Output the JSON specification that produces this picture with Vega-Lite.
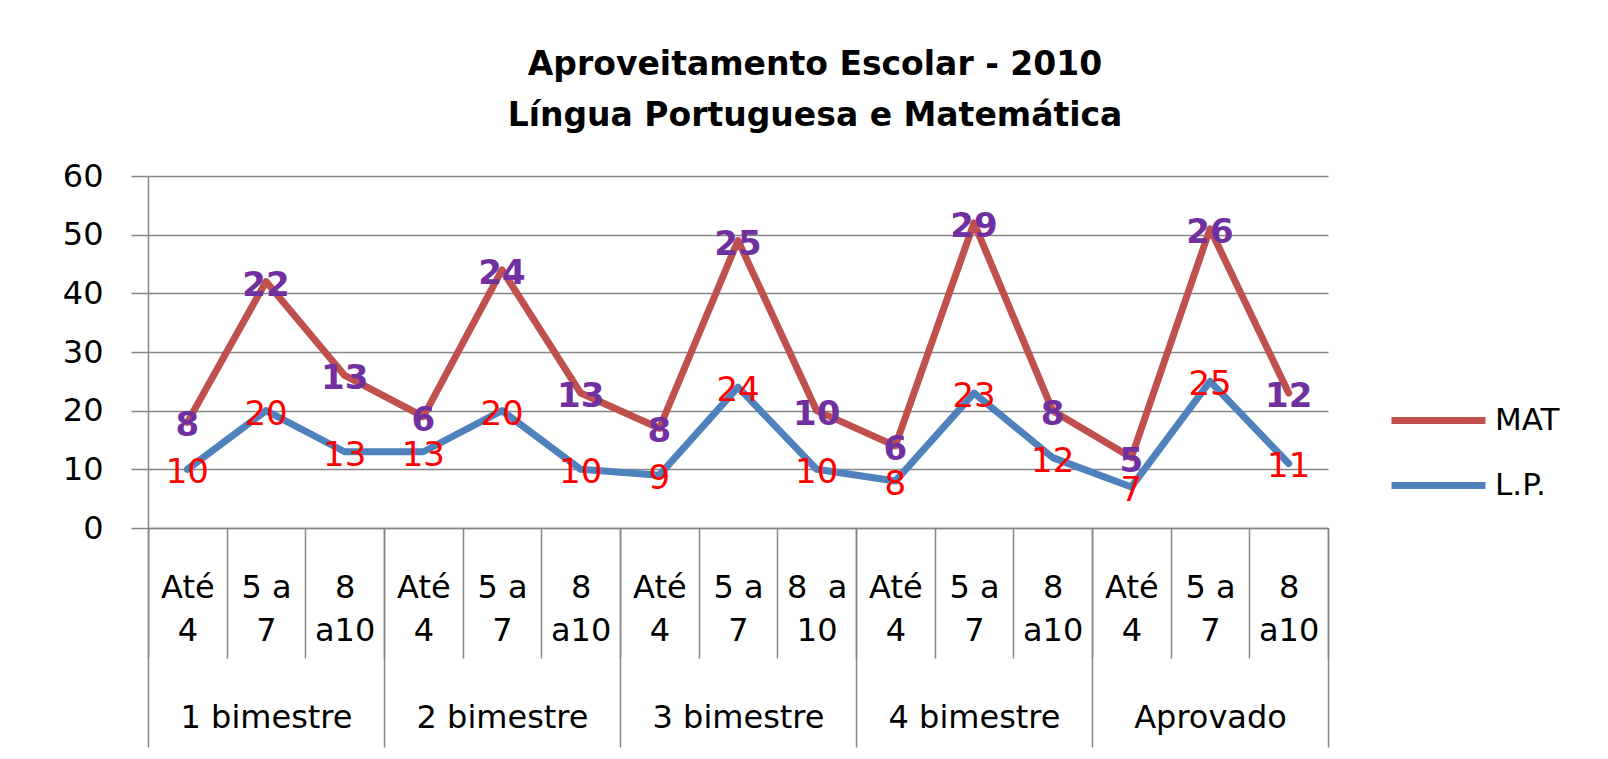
{
  "$schema": "https://vega.github.io/schema/vega-lite/v6.json",
  "autosize": "none",
  "width": 1180,
  "height": 352,
  "padding": {"left": 148, "top": 176, "right": 280, "bottom": 231},
  "background": "white",
  "title": {
    "text": ["Aproveitamento Escolar - 2010", "Língua Portuguesa e Matemática"],
    "font": "DejaVu Sans",
    "fontSize": 33,
    "fontWeight": "bold",
    "lineHeight": 51,
    "color": "black",
    "anchor": "middle",
    "frame": "group",
    "dx": 77,
    "offset": 27
  },
  "data": {
    "values": [
      {"key": "1 bimestre|Até|4", "bimestre": "1 bimestre", "serie": "L.P.", "valor": 10},
      {"key": "1 bimestre|Até|4", "bimestre": "1 bimestre", "serie": "MAT", "valor": 8},
      {"key": "1 bimestre|5 a|7", "bimestre": "1 bimestre", "serie": "L.P.", "valor": 20},
      {"key": "1 bimestre|5 a|7", "bimestre": "1 bimestre", "serie": "MAT", "valor": 22},
      {"key": "1 bimestre|8|a10", "bimestre": "1 bimestre", "serie": "L.P.", "valor": 13},
      {"key": "1 bimestre|8|a10", "bimestre": "1 bimestre", "serie": "MAT", "valor": 13},
      {"key": "2 bimestre|Até|4", "bimestre": "2 bimestre", "serie": "L.P.", "valor": 13},
      {"key": "2 bimestre|Até|4", "bimestre": "2 bimestre", "serie": "MAT", "valor": 6},
      {"key": "2 bimestre|5 a|7", "bimestre": "2 bimestre", "serie": "L.P.", "valor": 20},
      {"key": "2 bimestre|5 a|7", "bimestre": "2 bimestre", "serie": "MAT", "valor": 24},
      {"key": "2 bimestre|8|a10", "bimestre": "2 bimestre", "serie": "L.P.", "valor": 10},
      {"key": "2 bimestre|8|a10", "bimestre": "2 bimestre", "serie": "MAT", "valor": 13},
      {"key": "3 bimestre|Até|4", "bimestre": "3 bimestre", "serie": "L.P.", "valor": 9},
      {"key": "3 bimestre|Até|4", "bimestre": "3 bimestre", "serie": "MAT", "valor": 8},
      {"key": "3 bimestre|5 a|7", "bimestre": "3 bimestre", "serie": "L.P.", "valor": 24},
      {"key": "3 bimestre|5 a|7", "bimestre": "3 bimestre", "serie": "MAT", "valor": 25},
      {"key": "3 bimestre|8\u00a0 a|10", "bimestre": "3 bimestre", "serie": "L.P.", "valor": 10},
      {"key": "3 bimestre|8\u00a0 a|10", "bimestre": "3 bimestre", "serie": "MAT", "valor": 10},
      {"key": "4 bimestre|Até|4", "bimestre": "4 bimestre", "serie": "L.P.", "valor": 8},
      {"key": "4 bimestre|Até|4", "bimestre": "4 bimestre", "serie": "MAT", "valor": 6},
      {"key": "4 bimestre|5 a|7", "bimestre": "4 bimestre", "serie": "L.P.", "valor": 23},
      {"key": "4 bimestre|5 a|7", "bimestre": "4 bimestre", "serie": "MAT", "valor": 29},
      {"key": "4 bimestre|8|a10", "bimestre": "4 bimestre", "serie": "L.P.", "valor": 12},
      {"key": "4 bimestre|8|a10", "bimestre": "4 bimestre", "serie": "MAT", "valor": 8},
      {"key": "Aprovado|Até|4", "bimestre": "Aprovado", "serie": "L.P.", "valor": 7},
      {"key": "Aprovado|Até|4", "bimestre": "Aprovado", "serie": "MAT", "valor": 5},
      {"key": "Aprovado|5 a|7", "bimestre": "Aprovado", "serie": "L.P.", "valor": 25},
      {"key": "Aprovado|5 a|7", "bimestre": "Aprovado", "serie": "MAT", "valor": 26},
      {"key": "Aprovado|8|a10", "bimestre": "Aprovado", "serie": "L.P.", "valor": 11},
      {"key": "Aprovado|8|a10", "bimestre": "Aprovado", "serie": "MAT", "valor": 12}
    ]
  },
  "layer": [
    {
      "transform": [
        {"stack": "valor", "groupby": ["key"], "sort": [{"field": "serie", "order": "ascending"}], "as": ["v0", "v1"]}
      ],
      "encoding": {
        "x": {
          "field": "key",
          "type": "nominal",
          "sort": null,
          "scale": {"type": "band", "paddingInner": 0, "paddingOuter": 0},
          "axis": {
            "orient": "bottom",
            "title": null,
            "offset": 0,
            "tickBand": "extent",
            "tickSize": 130,
            "tickColor": "#868686",
            "tickWidth": 1.5,
            "domainColor": "#868686",
            "domainWidth": 1.5,
            "labelAngle": 0,
            "labelFont": "DejaVu Sans",
            "labelFontSize": 32,
            "labelLineHeight": 43,
            "labelBaseline": "top",
            "labelPadding": -86,
            "labelColor": "black",
            "labelExpr": "slice(split(datum.label, '|'), 1)",
            "grid": false
          }
        },
        "y": {
          "field": "v1",
          "type": "quantitative",
          "scale": {"domain": [0, 60], "nice": false, "zero": true},
          "axis": {
            "title": null,
            "values": [0, 10, 20, 30, 40, 50, 60],
            "grid": true,
            "gridColor": "#868686",
            "gridWidth": 1.5,
            "tickSize": 17,
            "tickColor": "#868686",
            "tickWidth": 1.5,
            "domainColor": "#868686",
            "domainWidth": 1.5,
            "labelFont": "DejaVu Sans",
            "labelFontSize": 32,
            "labelColor": "black",
            "labelPadding": 28
          }
        }
      },
      "layer": [
        {
          "mark": {"type": "line", "strokeWidth": 7, "strokeCap": "round", "strokeJoin": "round"},
          "encoding": {
            "color": {
              "field": "serie",
              "type": "nominal",
              "scale": {"domain": ["MAT", "L.P."], "range": ["#C0504D", "#4F81BD"]},
              "legend": {
                "title": null,
                "orient": "none",
                "legendX": 1267,
                "legendY": 221,
                "padding": 0,
                "symbolType": "M-2.35,0H2.35",
                "symbolSize": 1600,
                "symbolStrokeWidth": 7,
                "labelOffset": 33,
                "labelFont": "DejaVu Sans",
                "labelFontSize": 31,
                "labelColor": "black",
                "rowPadding": 26
              }
            }
          }
        },
        {
          "transform": [{"filter": "datum.serie === 'L.P.'"}],
          "mark": {"type": "text", "font": "DejaVu Sans", "fontSize": 34, "fill": "#FF0000", "baseline": "middle", "align": "center", "dy": 4},
          "encoding": {"text": {"field": "valor", "type": "quantitative"}}
        },
        {
          "transform": [{"filter": "datum.serie === 'MAT'"}],
          "mark": {"type": "text", "font": "DejaVu Sans", "fontSize": 34, "fontWeight": "bold", "fill": "#7030A0", "baseline": "middle", "align": "center", "dy": 4},
          "encoding": {"text": {"field": "valor", "type": "quantitative"}}
        }
      ]
    },
    {
      "mark": {"type": "point", "opacity": 0},
      "encoding": {
        "x": {
          "field": "bimestre",
          "type": "nominal",
          "sort": null,
          "scale": {"type": "band", "paddingInner": 0, "paddingOuter": 0},
          "axis": {
            "orient": "bottom",
            "title": null,
            "offset": 0,
            "domain": false,
            "tickBand": "extent",
            "tickSize": 219,
            "tickColor": "#868686",
            "tickWidth": 1.5,
            "labelAngle": 0,
            "labelFont": "DejaVu Sans",
            "labelFontSize": 32,
            "labelBaseline": "top",
            "labelPadding": -45,
            "labelColor": "black",
            "grid": false
          }
        },
        "y": {"datum": 0, "type": "quantitative"}
      }
    }
  ],
  "resolve": {"scale": {"x": "independent"}, "axis": {"x": "independent"}},
  "config": {"view": {"stroke": null}}
}
